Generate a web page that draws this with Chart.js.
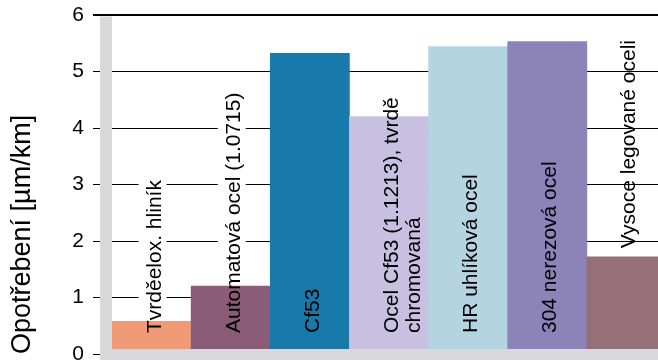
<!DOCTYPE html>
<html>
<head>
<meta charset="utf-8">
<script src="https://cdn.jsdelivr.net/npm/chart.js@4"></script>
<style>
  html, body { margin: 0; padding: 0; background: #fff; overflow: hidden; }
  #wrap { width: 658px; height: 360px; overflow: hidden; }
</style>
</head>
<body>
<div id="wrap"><canvas id="wearChart" width="666" height="360"></canvas></div>
<script>
// Materiály (popisky sloupců, víceřádkové jako pole)
const materials = [
  ['Tvrděelox. hliník'],
  ['Automatová ocel (1.0715)'],
  ['Cf53'],
  ['Ocel Cf53 (1.1213), tvrdě', 'chromovaná'],
  ['HR uhlíková ocel'],
  ['304 nerezová ocel'],
  ['Vysoce legované oceli']
];
// Opotřebení v µm/km
const wear = [0.58, 1.2, 5.32, 4.2, 5.44, 5.53, 1.72];
const yTicks = [0, 1, 2, 3, 4, 5, 6];

const barColors = ['#f09a78', '#8a5c78', '#187aab', '#c8c0e0', '#b4d4e2', '#8c84b8', '#967078'];
const labelAnchor = ['base', 'base', 'base', 'base', 'base', 'base', 'top'];
const wallGray = '#d9d9db';
const labelFont = '21px "Liberation Sans"';

const decor = {
  id: 'decor',
  beforeDatasetsDraw(chart) {
    const { ctx, chartArea: a } = chart;
    const meta = chart.getDatasetMeta(0);
    ctx.save();
    // levá stěna
    ctx.fillStyle = wallGray;
    ctx.fillRect(a.left - 12, a.top + 1.5, 12, chart.height);
    // bílé pozadí popisků přes mřížku (jen u popisků od základny)
    ctx.font = labelFont;
    ctx.fillStyle = '#fff';
    meta.data.forEach((bar, i) => {
      if (labelAnchor[i] === 'top') return;
      const lines = chart.data.labels[i];
      const w = Math.max(...lines.map(l => ctx.measureText(l).width));
      const start = a.bottom - 21;
      const bx = bar.x + 9 - 22;
      const bw = 28 + (lines.length - 1) * 21.6;
      ctx.fillRect(bx, start - w - 3, bw, w + 3);
    });
    ctx.restore();
  },
  afterDatasetsDraw(chart) {
    const { ctx, chartArea: a } = chart;
    const meta = chart.getDatasetMeta(0);
    ctx.save();
    // podlaha
    ctx.fillStyle = wallGray;
    ctx.fillRect(a.left - 12, a.bottom - 5, chart.width, chart.height);
    // svislé popisky ve sloupcích
    ctx.font = labelFont;
    ctx.fillStyle = '#000';
    meta.data.forEach((bar, i) => {
      const lines = chart.data.labels[i];
      const top = labelAnchor[i] === 'top';
      ctx.save();
      ctx.translate(bar.x, top ? a.top + 25 : a.bottom - 21);
      ctx.rotate(-Math.PI / 2);
      ctx.textAlign = top ? 'right' : 'left';
      ctx.textBaseline = 'alphabetic';
      lines.forEach((l, k) => ctx.fillText(l, 0, 9 + k * 21.6));
      ctx.restore();
    });
    ctx.restore();
  }
};

new Chart(document.getElementById('wearChart'), {
  type: 'bar',
  data: {
    labels: materials,
    datasets: [{
      data: wear,
      backgroundColor: barColors,
      borderWidth: 0,
      categoryPercentage: 1,
      barPercentage: 1
    }]
  },
  options: {
    responsive: false,
    animation: false,
    layout: { padding: { top: 15, bottom: 6, left: 0, right: 0 } },
    plugins: { legend: { display: false }, tooltip: { enabled: false } },
    scales: {
      x: { display: false },
      y: {
        min: 0,
        max: 6,
        afterBuildTicks: s => { s.ticks = yTicks.map(v => ({ value: v })); },
        afterFit: s => { s.width = 112; s.paddingTop = 0; s.paddingBottom = 0; },
        border: { display: false },
        grid: {
          color: '#000',
          lineWidth: c => (c.tick && c.tick.value === 6 ? 2 : 1),
          tickLength: 19
        },
        ticks: {
          padding: 9,
          color: '#000',
          font: { family: 'Liberation Sans', size: 21 }
        },
        title: {
          display: true,
          text: 'Opotřebení [µm/km]',
          align: 'start',
          color: '#000',
          font: { family: 'Liberation Sans', size: 27 },
          padding: { top: 6, bottom: 0 }
        }
      }
    }
  },
  plugins: [decor]
});
</script>
</body>
</html>
